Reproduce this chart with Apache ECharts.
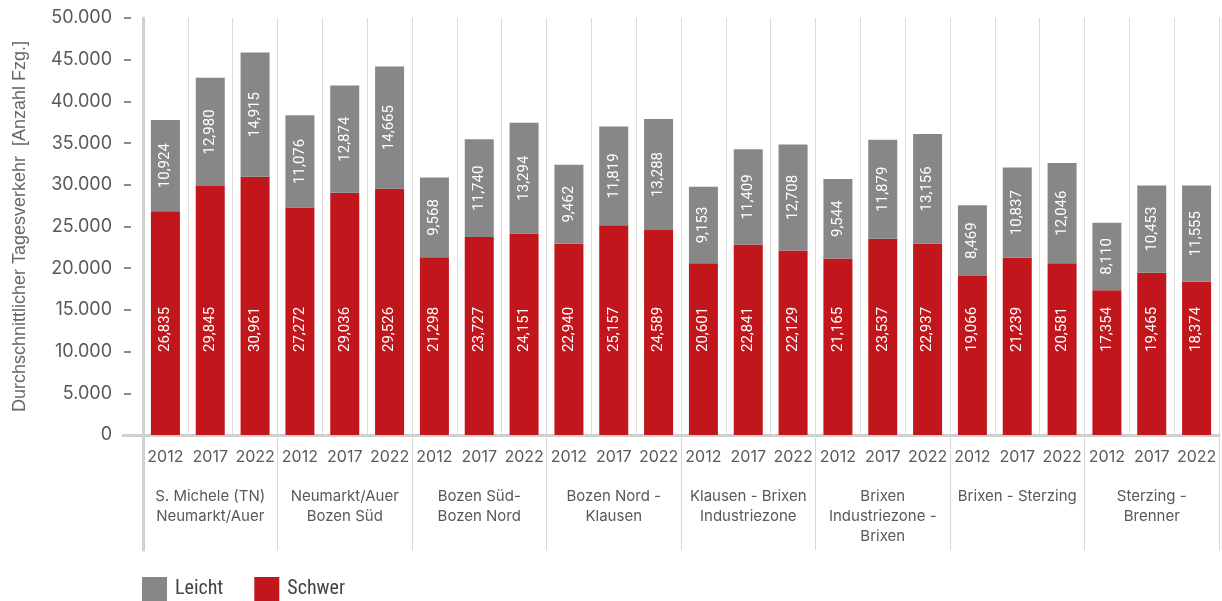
<!DOCTYPE html>
<html>
<head>
<meta charset="utf-8">
<script src="https://cdn.jsdelivr.net/npm/echarts@6/dist/echarts.min.js"></script>
<style>
  html, body { margin: 0; padding: 0; background: #ffffff; }
  #chart { width: 1222px; height: 601px; }
</style>
</head>
<body>
<div id="chart"></div>
<script>
// Motorway sections (group labels under the year labels)
const sections = [
  'S. Michele (TN)\nNeumarkt/Auer',
  'Neumarkt/Auer\nBozen Süd',
  'Bozen Süd-\nBozen Nord',
  'Bozen Nord -\nKlausen',
  'Klausen - Brixen\nIndustriezone',
  'Brixen\nIndustriezone -\nBrixen',
  'Brixen - Sterzing',
  'Sterzing -\nBrenner'
];
const years = ['2012', '2017', '2022'];

// Average daily traffic per section and year (section by section, 2012/2017/2022)
const schwer = [
  26835, 29845, 30961,
  27272, 29036, 29526,
  21298, 23727, 24151,
  22940, 25157, 24589,
  20601, 22841, 22129,
  21165, 23537, 22937,
  19066, 21239, 20581,
  17354, 19465, 18374
];
const leicht = [
  10924, 12980, 14915,
  11076, 12874, 14665,
  9568, 11740, 13294,
  9462, 11819, 13288,
  9153, 11409, 12708,
  9544, 11879, 13156,
  8469, 10837, 12046,
  8110, 10453, 11555
];

// Value axis ticks
const yTicks = [0, 5000, 10000, 15000, 20000, 25000, 30000, 35000, 40000, 45000, 50000];
const yStep = 5000;
const yTitle = 'Durchschnittlicher Tagesverkehr  [Anzahl Fzg.]';

const yearLabels = [];
sections.forEach(() => years.forEach(y => yearLabels.push(y)));

const groupSep = (v, sep) => String(v).replace(/\B(?=(\d{3})+(?!\d))/g, sep);

const RED = '#C1161B';
const GREY = '#878787';
const AXIS_GREY = '#cfcfcf';
const TEXT = '#595959';

const chart = echarts.init(document.getElementById('chart'));
chart.setOption({
  animation: false,
  backgroundColor: '#ffffff',
  grid: [
    { left: 143, right: 3, top: 18, bottom: 166, containLabel: false },
    { left: 123, right: 3, top: 435, height: 115, containLabel: false }
  ],
  legend: {
    data: ['Leicht', 'Schwer'],
    left: 142,
    top: 577,
    padding: 0,
    icon: 'rect',
    itemWidth: 25,
    itemHeight: 24,
    itemGap: 31,
    textStyle: {
      fontFamily: "'Liberation Sans Narrow', 'Roboto Condensed', Roboto",
      fontSize: 20,
      color: '#444',
      padding: [0, 0, 0, 3]
    }
  },
  xAxis: [
    {
      type: 'category',
      gridIndex: 0,
      data: yearLabels,
      position: 'bottom',
      axisLine: { show: true, lineStyle: { color: AXIS_GREY, width: 3 } },
      axisTick: { show: false },
      axisLabel: { interval: 0, margin: 14, color: TEXT, fontFamily: 'Inter', fontSize: 16 },
      splitLine: { show: true, interval: 0, lineStyle: { color: '#dcdcdc', width: 1 } }
    },
    {
      type: 'category',
      gridIndex: 0,
      data: sections,
      position: 'bottom',
      axisLine: { show: false },
      axisTick: { show: true, interval: 0, length: 115, lineStyle: { color: '#d6d6d6', width: 1 } },
      axisLabel: { interval: 0, margin: 51, lineHeight: 20, color: TEXT, fontFamily: 'Inter', fontSize: 15 },
      splitLine: { show: false }
    },
    {
      type: 'value',
      gridIndex: 1,
      min: 0,
      max: 1,
      position: 'top',
      axisLine: { show: true, onZero: false, lineStyle: { color: AXIS_GREY, width: 3 } },
      axisTick: { show: false },
      axisLabel: { show: false },
      splitLine: { show: false }
    }
  ],
  yAxis: [
    {
      type: 'value',
      gridIndex: 0,
      min: 0,
      max: 50000,
      interval: yStep,
      axisLine: { show: true, onZero: false, lineStyle: { color: AXIS_GREY, width: 3 } },
      axisTick: { show: false },
      axisLabel: { show: false },
      splitLine: { show: false },
      name: yTitle,
      nameLocation: 'middle',
      nameGap: 114,
      nameTextStyle: { fontFamily: 'Liberation Sans', fontSize: 18, color: '#666' }
    },
    {
      type: 'value',
      gridIndex: 0,
      min: 0,
      max: 50000,
      interval: yStep,
      position: 'left',
      offset: 12,
      axisLine: { show: false },
      axisTick: { show: true, length: 7, customValues: yTicks.slice(1), lineStyle: { color: '#666', width: 1.5 } },
      axisLabel: {
        customValues: yTicks,
        margin: 19,
        color: TEXT,
        fontFamily: 'Inter',
        fontSize: 18,
        formatter: v => groupSep(v, '.')
      },
      splitLine: { show: false }
    },
    {
      type: 'value',
      gridIndex: 1,
      min: 0,
      max: 1,
      position: 'left',
      offset: -20,
      axisLine: { show: true, onZero: false, lineStyle: { color: AXIS_GREY, width: 3 } },
      axisTick: { show: false },
      axisLabel: { show: false },
      splitLine: { show: false }
    }
  ],
  series: [
    {
      name: 'Schwer',
      type: 'bar',
      stack: 'traffic',
      xAxisIndex: 0,
      yAxisIndex: 0,
      barWidth: 29,
      data: schwer,
      itemStyle: { color: RED },
      label: {
        show: true,
        position: 'insideBottom',
        distance: 83,
        rotate: 90,
        align: 'left',
        verticalAlign: 'middle',
        color: '#ffffff',
        fontFamily: 'Roboto',
        fontSize: 15,
        formatter: p => groupSep(p.value, ',')
      }
    },
    {
      name: 'Leicht',
      type: 'bar',
      stack: 'traffic',
      xAxisIndex: 0,
      yAxisIndex: 0,
      barWidth: 29,
      data: leicht,
      itemStyle: { color: GREY },
      label: {
        show: true,
        position: 'inside',
        rotate: 90,
        color: '#ffffff',
        fontFamily: 'Roboto',
        fontSize: 15,
        formatter: p => groupSep(p.value, ',')
      }
    }
  ]
});
</script>
</body>
</html>
